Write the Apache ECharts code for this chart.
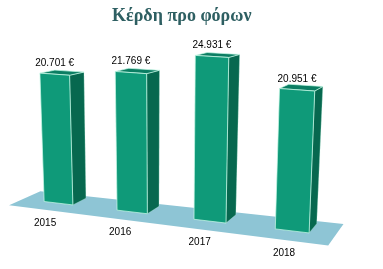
<!DOCTYPE html>
<html><head><meta charset="utf-8">
<script src="https://cdn.jsdelivr.net/npm/echarts@6/dist/echarts.min.js"></script>
<style>html,body{margin:0;padding:0;background:#fff}#c{width:383px;height:269px}</style>
</head><body><div id="c"></div>
<script>
// ---- data ----
const years = ['2015', '2016', '2017', '2018'];
const profits = [20701, 21769, 24931, 20951];
const valueMax = 25000;

// ---- view (perspective of the plot plane) ----
const GRID = {left: 23, right: 56, top: 44, bottom: 70};
const VIEW_QUAD = [[23, 199], [335, 236], [17, 44], [343, 64]]; // BL, BR, TL, TR
const DEPTH_VP = [520, -24];
const DEPTH_K = 0.028;
const DEPTH_P = 2.5;
const BAR_FRAC = 0.4;
const FLOOR_FRONT = -1, FLOOR_BACK = 1.25;

function solveH(src, dst) {
  const A = [];
  for (let i = 0; i < 4; i++) {
    const [x, y] = src[i], [X, Y] = dst[i];
    A.push([x, y, 1, 0, 0, 0, -x * X, -y * X, X]);
    A.push([0, 0, 0, x, y, 1, -x * Y, -y * Y, Y]);
  }
  for (let c = 0; c < 8; c++) {
    let p = c;
    for (let r = c + 1; r < 8; r++) if (Math.abs(A[r][c]) > Math.abs(A[p][c])) p = r;
    const tmp = A[c]; A[c] = A[p]; A[p] = tmp;
    for (let r = 0; r < 8; r++) {
      if (r === c) continue;
      const f = A[r][c] / A[c][c];
      for (let k = c; k < 9; k++) A[r][k] -= f * A[c][k];
    }
  }
  return A.map((row, i) => row[8] / row[i]);
}

function makeProj(cs) {
  const src = [[cs.x, cs.y + cs.height], [cs.x + cs.width, cs.y + cs.height], [cs.x, cs.y], [cs.x + cs.width, cs.y]];
  const h = solveH(src, VIEW_QUAD);
  const den0 = h[6] * src[0][0] + h[7] * src[0][1] + 1;
  return function (u, v, z) {
    const den = h[6] * u + h[7] * v + 1;
    const X = (h[0] * u + h[1] * v + h[2]) / den;
    const Y = (h[3] * u + h[4] * v + h[5]) / den;
    const wn = den / den0;
    const k = z * DEPTH_K / Math.pow(wn, DEPTH_P);
    return [X + k * (DEPTH_VP[0] - X), Y + k * (DEPTH_VP[1] - Y)];
  };
}

function fmt(v) {
  return String(Math.round(v)).replace(/\B(?=(\d{3})+(?!\d))/g, '.') + ' €';
}

const chart = echarts.init(document.getElementById('c'), null, {renderer: 'canvas'});

const edge = 'rgba(200,250,232,0.9)';

chart.setOption({
  animation: false,
  title: {
    text: 'Κέρδη προ φόρων', left: 107, top: 2,
    textStyle: {fontFamily: 'Liberation Serif', fontSize: 18, fontWeight: 'bold', color: '#2E5F62'}
  },
  grid: GRID,
  xAxis: {type: 'category', data: years, show: false},
  yAxis: {type: 'value', min: 0, max: valueMax, show: false},
  series: [
    {
      type: 'custom', z: 1,
      data: [[0, 0]],
      renderItem: function (params, api) {
        const cs = params.coordSys;
        const P = makeProj(cs);
        const v0 = api.coord([0, 0])[1];
        const uL = cs.x, uR = cs.x + cs.width;
        const pts = [P(uL, v0, FLOOR_FRONT), P(uR, v0, FLOOR_FRONT), P(uR, v0, FLOOR_BACK), P(uL, v0, FLOOR_BACK)];
        return {type: 'polygon', shape: {points: pts}, style: {fill: '#8EC5D5'}};
      }
    },
    {
      type: 'custom', z: 2,
      data: profits.map((v, i) => [i, v]),
      encode: {x: 0, y: 1},
      renderItem: function (params, api) {
        const P = makeProj(params.coordSys);
        const i = api.value(0), val = api.value(1);
        const c = api.coord([i, 0]), t = api.coord([i, val]);
        const hw = api.size([1, 0])[0] * BAR_FRAC / 2;
        const uL = c[0] - hw, uR = c[0] + hw, v0 = c[1], vT = t[1];
        const side = [P(uR, v0, 0), P(uR, v0, 1), P(uR, vT, 1), P(uR, vT, 0)];
        const top = [P(uL, vT, 0), P(uR, vT, 0), P(uR, vT, 1), P(uL, vT, 1)];
        const front = [P(uL, v0, 0), P(uR, v0, 0), P(uR, vT, 0), P(uL, vT, 0)];
        const lab = P(c[0], vT, 0);
        const cat = P(c[0], v0, FLOOR_FRONT);
        return {
          type: 'group',
          children: [
            {type: 'polygon', shape: {points: side}, style: {fill: '#07684F', stroke: 'rgba(200,250,232,0.5)', lineWidth: 0.6}},
            {type: 'polygon', shape: {points: top}, style: {fill: '#0B7E63', stroke: edge, lineWidth: 0.8}},
            {type: 'polygon', shape: {points: front}, style: {fill: '#0F9A79', stroke: edge, lineWidth: 0.8}},
            {type: 'text', x: lab[0], y: lab[1] - 11,
              style: {text: fmt(val), fill: '#000', font: '10px "Liberation Sans"', align: 'center', verticalAlign: 'middle'}},
            {type: 'text', x: cat[0], y: cat[1] + 13,
              style: {text: years[i], fill: '#000', font: '10px "Liberation Sans"', align: 'center', verticalAlign: 'middle'}}
          ]
        };
      }
    }
  ]
});
</script>
</body></html>
